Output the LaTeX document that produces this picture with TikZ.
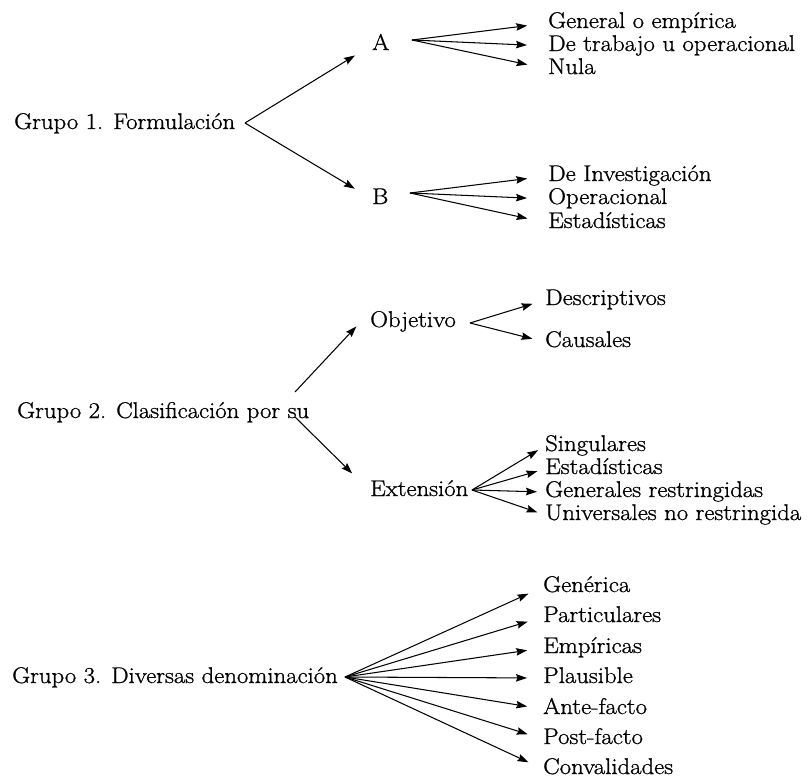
\documentclass[tikz,border=0pt]{standalone}
\usepackage{fontspec}
\setmainfont{Latin Modern Roman}[FakeStretch=1.09, FakeBold=1]
\usetikzlibrary{arrows.meta}
\begin{document}
\begin{tikzpicture}[x=1pt,y=-1pt,
  lbl/.style={anchor=base west, inner sep=0pt, text height=15pt, text depth=5pt, font=\fontsize{22.7}{27}\selectfont},
  arr/.style={line width=1.05pt, -{Stealth[length=11pt,width=7.5pt,inset=1.5pt]}}]
\useasboundingbox (0,0) rectangle (809,777);
% group 1
\node[lbl] (g1) at (14,129) {Grupo 1. Formulación};
\node[lbl] (A) at (372,50) {A};
\node[lbl] (B) at (372,204) {B};
\node[lbl] (a1) at (548,28) {General o empírica};
\node[lbl] (a2) at (548,51) {De trabajo u operacional};
\node[lbl] (a3) at (548,74) {Nula};
\node[lbl] (b1) at (548,181) {De Investigación};
\node[lbl] (b2) at (548,204) {Operacional};
\node[lbl] (b3) at (548,228) {Estadísticas};
% group 2
\node[lbl] (g2) at (17,418) {Grupo 2. Clasificación por su};
\node[lbl] (obj) at (370,327) {Objetivo};
\node[lbl] (ext) at (370,496) {Extensión};
\node[lbl] (o1) at (545,305) {Descriptivos};
\node[lbl] (o2) at (545,347) {Causales};
\node[lbl] (e1) at (545,451) {Singulares};
\node[lbl] (e2) at (545,474) {Estadísticas};
\node[lbl] (e3) at (545,497) {Generales restringidas};
\node[lbl] (e4) at (545,520) {Universales no restringida};
% group 3
\node[lbl] (g3) at (12,683) {Grupo 3. Diversas denominación};
\node[lbl] (c1) at (543,592) {Genérica};
\node[lbl] (c2) at (543,622) {Particulares};
\node[lbl] (c3) at (543,653) {Empíricas};
\node[lbl] (c4) at (543,683) {Plausible};
\node[lbl] (c5) at (543,714) {Ante-facto};
\node[lbl] (c6) at (543,744) {Post-facto};
\node[lbl] (c7) at (543,774) {Convalidades};
% fan origins
\coordinate (g1o) at (245,123);
\coordinate (Ao) at (412,40);
\coordinate (Bo) at (410,193);
\coordinate (g2a) at (295,392);
\coordinate (g2b) at (295,417);
\coordinate (Oo) at (470,323);
\coordinate (Eo) at (472,490);
\coordinate (g3o) at (345,677);
% arrows
\draw[arr, shorten >=20pt] (g1o) -- (A.west);
\draw[arr, shorten >=20pt] (g1o) -- (B.west);
\foreach \t in {a1,a2,a3} \draw[arr, shorten >=21pt] (Ao) -- (\t.west);
\foreach \t in {b1,b2,b3} \draw[arr, shorten >=21pt] (Bo) -- (\t.west);
\draw[arr, shorten >=20pt] (g2a) -- (obj.north west);
\draw[arr, shorten >=25pt] (g2b) -- (ext.west);
\foreach \t in {o1,o2} \draw[arr, shorten >=13pt] (Oo) -- (\t.west);
\foreach \t in {e1,e2,e3,e4} \draw[arr, shorten >=8pt] (Eo) -- (\t.west);
\foreach \t in {c1,c2,c3,c4,c5,c6,c7} \draw[arr, shorten >=16pt] (g3o) -- (\t.west);
\end{tikzpicture}
\end{document}
